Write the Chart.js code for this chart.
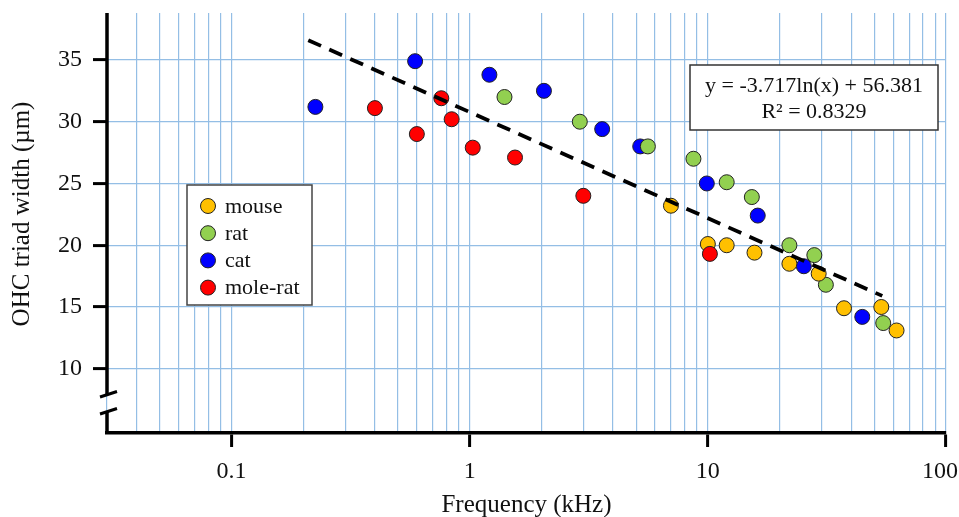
<!DOCTYPE html>
<html>
<head>
<meta charset="utf-8">
<script src="https://cdn.jsdelivr.net/npm/chart.js@4/dist/chart.umd.min.js"></script>
<style>
  body { margin: 0; background: #fff; }
  canvas { display: block; }
</style>
</head>
<body>
<canvas id="chart" width="959" height="517"></canvas>
<script>
// values (frequency in kHz, width in µm)
var mouseX = [7.0, 10.0, 12.0, 15.7, 22.0, 29.2, 37.3, 53.5, 62.0];
var mouseY = [23.2, 20.1, 20.0, 19.4, 18.5, 17.7, 14.9, 15.0, 13.1];
var ratX = [1.40, 2.9, 5.6, 8.7, 12.0, 15.3, 22.0, 28.0, 31.3, 54.5];
var ratY = [32.0, 30.0, 28.0, 27.0, 25.1, 23.9, 20.0, 19.2, 16.8, 13.7];
var catX = [0.225, 0.59, 1.21, 2.05, 3.6, 5.2, 9.9, 16.2, 25.3, 44.5];
var catY = [31.2, 34.9, 33.8, 32.5, 29.4, 28.0, 25.0, 22.4, 18.3, 14.2];
var moleX = [0.40, 0.60, 0.76, 0.84, 1.03, 1.55, 3.0, 10.2];
var moleY = [31.1, 29.0, 31.9, 30.2, 27.9, 27.1, 24.0, 19.3];
var trendX = [0.21, 54];
var trendY = [36.6, 15.9];

var seriesNames = ['mouse', 'rat', 'cat', 'mole-rat'];
var seriesColors = ['#FFC000', '#92D050', '#0000FF', '#FF0000'];
var xTicks = [0.1, 1, 10, 100];
var yTicks = [10, 15, 20, 25, 30, 35];
var xTitle = 'Frequency (kHz)';
var yTitle = 'OHC triad width (\u00B5m)';
var eqLine1 = 'y = -3.717ln(x) + 56.381';
var eqLine2 = 'R\u00B2 = 0.8329';

var serif = '"Liberation Serif", "Times New Roman", serif';
var gridBlue = '#94BEE5';

function pts(xs, ys) {
    var out = [];
    for (var i = 0; i < xs.length; i++) out.push({ x: xs[i], y: ys[i] });
    return out;
}

// light blue grid at every 1..9 step of each decade
var xGrid = [];
for (var e = -2; e <= 1; e++) {
    for (var m = 1; m <= 9; m++) {
        var v = parseFloat((m * Math.pow(10, e)).toPrecision(3));
        if (v >= 0.03) xGrid.push(v);
    }
}
xGrid.push(100);

function scatterSet(idx, xs, ys, order) {
    return {
        type: 'scatter',
        label: seriesNames[idx],
        data: pts(xs, ys),
        backgroundColor: seriesColors[idx],
        borderColor: '#222',
        borderWidth: 1,
        pointRadius: 7.5,
        pointHoverRadius: 7.5,
        order: order
    };
}

var decorPlugin = {
    id: 'decor',
    afterDraw: function (chart) {
        var ctx = chart.ctx;
        var a = chart.chartArea;
        ctx.save();

        // y axis with a break near the bottom
        ctx.strokeStyle = '#000';
        ctx.lineWidth = 3.5;
        ctx.beginPath();
        ctx.moveTo(a.left, a.top);
        ctx.lineTo(a.left, 394);
        ctx.moveTo(a.left, 411);
        ctx.lineTo(a.left, a.bottom + 1);
        ctx.stroke();
        ctx.lineWidth = 3;
        ctx.beginPath();
        ctx.moveTo(a.left - 7, 397);
        ctx.lineTo(a.left + 10, 391.5);
        ctx.moveTo(a.left - 7, 414);
        ctx.lineTo(a.left + 10, 408.5);
        ctx.stroke();

        // y title, sits a little above the centre of the axis
        ctx.fillStyle = '#111';
        ctx.font = '25px ' + serif;
        ctx.textAlign = 'center';
        ctx.textBaseline = 'middle';
        ctx.translate(22, 214);
        ctx.rotate(-Math.PI / 2);
        ctx.fillText(yTitle, 0, 0);
        ctx.setTransform(1, 0, 0, 1, 0, 0);

        // legend box
        ctx.fillStyle = '#fff';
        ctx.fillRect(187, 185, 125, 120);
        ctx.strokeStyle = '#444';
        ctx.lineWidth = 1.5;
        ctx.strokeRect(187, 185, 125, 120);
        ctx.font = '22px ' + serif;
        ctx.textBaseline = 'middle';
        ctx.textAlign = 'left';
        for (var i = 0; i < seriesNames.length; i++) {
            var y = 206 + i * 27.2;
            ctx.beginPath();
            ctx.arc(208, y, 7.5, 0, Math.PI * 2);
            ctx.fillStyle = seriesColors[i];
            ctx.fill();
            ctx.lineWidth = 1;
            ctx.strokeStyle = '#222';
            ctx.stroke();
            ctx.fillStyle = '#111';
            ctx.fillText(seriesNames[i], 225, y + 1);
        }

        // regression equation box
        ctx.fillStyle = '#fff';
        ctx.fillRect(690, 65, 248, 65);
        ctx.strokeStyle = '#333';
        ctx.lineWidth = 1.5;
        ctx.strokeRect(690, 65, 248, 65);
        ctx.fillStyle = '#111';
        ctx.textAlign = 'center';
        ctx.textBaseline = 'alphabetic';
        ctx.fillText(eqLine1, 814, 92);
        ctx.fillText(eqLine2, 814, 118);

        ctx.restore();
    }
};

new Chart(document.getElementById('chart').getContext('2d'), {
    data: {
        datasets: [
            {
                type: 'line',
                label: 'trend',
                data: pts(trendX, trendY),
                borderColor: '#000',
                borderWidth: 3.8,
                borderDash: [14, 9],
                pointRadius: 0,
                fill: false,
                order: 0
            },
            scatterSet(3, moleX, moleY, 1),
            scatterSet(0, mouseX, mouseY, 2),
            scatterSet(1, ratX, ratY, 3),
            scatterSet(2, catX, catY, 4)
        ]
    },
    options: {
        responsive: false,
        devicePixelRatio: 1,
        animation: false,
        layout: { padding: { top: 13, right: 13, left: 0, bottom: 0 } },
        plugins: {
            legend: { display: false },
            tooltip: { enabled: false }
        },
        scales: {
            x: {
                type: 'logarithmic',
                position: 'bottom',
                min: 0.03,
                max: 100,
                afterBuildTicks: function (scale) {
                    scale.ticks = xGrid.map(function (v) { return { value: v }; });
                },
                afterFit: function (scale) {
                    scale.height = 84;
                    scale.paddingLeft = 0;
                    scale.paddingRight = 0;
                },
                grid: {
                    color: gridBlue,
                    lineWidth: 1.2,
                    tickLength: 14,
                    tickWidth: 3,
                    tickColor: function (c) {
                        return c.tick && xTicks.indexOf(c.tick.value) >= 0 ? '#000' : 'rgba(0,0,0,0)';
                    }
                },
                border: { display: true, color: '#000', width: 3.5 },
                ticks: {
                    autoSkip: false,
                    maxRotation: 0,
                    padding: 10,
                    color: '#111',
                    font: { family: serif, size: 24 },
                    callback: function (value) {
                        if (xTicks.indexOf(value) < 0) return '';
                        // last label is pushed left so it stays inside the page
                        return value === xTicks[xTicks.length - 1] ? value + '\u2002' : String(value);
                    }
                },
                title: {
                    display: true,
                    text: xTitle,
                    color: '#111',
                    font: { family: serif, size: 25 },
                    padding: { top: 0, bottom: -3 }
                }
            },
            y: {
                type: 'linear',
                position: 'left',
                min: 4.8,
                max: 38.8,
                afterBuildTicks: function (scale) {
                    scale.ticks = yTicks.map(function (v) { return { value: v }; });
                },
                afterFit: function (scale) {
                    scale.width = 107;
                    scale.paddingTop = 0;
                    scale.paddingBottom = 0;
                },
                grid: {
                    color: gridBlue,
                    lineWidth: 1.2,
                    tickLength: 14,
                    tickWidth: 3,
                    tickColor: '#000'
                },
                border: { display: false },
                ticks: {
                    padding: 11,
                    color: '#111',
                    font: { family: serif, size: 24 }
                },
                title: { display: false }
            }
        }
    },
    plugins: [decorPlugin]
});
</script>
</body>
</html>
